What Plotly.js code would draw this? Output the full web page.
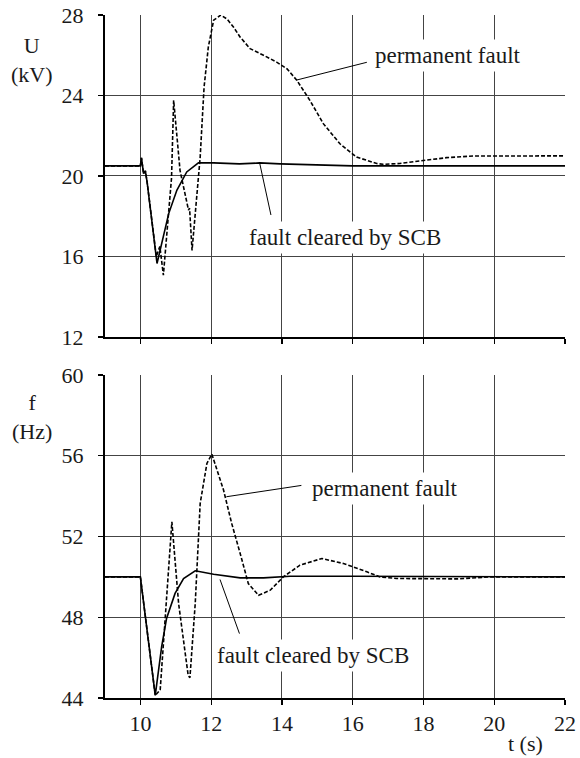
<!DOCTYPE html>
<html>
<head>
<meta charset="utf-8">
<script src="https://cdn.plot.ly/plotly-3.0.1.min.js"></script>
<style>html,body{margin:0;padding:0;background:#fff;}#chart{width:580px;height:758px;}</style>
</head>
<body>
<div id="chart"></div>
<script>
// ---- Data ----
// Voltage U (kV), fault cleared by SCB (solid)
const tUCleared = [9, 10, 10.03, 10.09, 10.14, 10.19, 10.47, 10.61, 10.80, 11.03, 11.31, 11.64, 12.07, 12.8, 13.37, 13.95, 15.0, 16.0, 17.0, 22];
const uCleared  = [20.5, 20.5, 20.9, 20.12, 20.25, 19.7, 15.65, 16.64, 18.13, 19.29, 20.2, 20.65, 20.65, 20.6, 20.65, 20.6, 20.55, 20.5, 20.5, 20.5];
// Voltage U (kV), permanent fault (dashed)
const tUPerm = [9, 10, 10.03, 10.09, 10.14, 10.19, 10.45, 10.55, 10.65, 10.88, 10.94, 11.12, 11.36, 11.39, 11.46, 11.69, 11.80, 11.92, 12.07, 12.27, 12.45, 12.63, 12.82, 13.1, 13.48, 13.85, 14.14, 14.42, 14.79, 15.17, 15.64, 16.11, 16.68, 16.86, 17.33, 18.0, 18.65, 19.4, 20.3, 22];
const uPerm  = [20.5, 20.5, 20.9, 20.12, 20.25, 19.7, 16.0, 16.5, 15.07, 19.9, 23.76, 20.28, 18.3, 18.4, 16.3, 20.94, 24.42, 26.41, 27.74, 28.0, 27.8, 27.4, 26.9, 26.33, 26.0, 25.66, 25.33, 24.76, 23.76, 22.6, 21.6, 20.94, 20.62, 20.58, 20.62, 20.75, 20.91, 20.99, 21.0, 21.0];
// Frequency f (Hz), fault cleared by SCB (solid)
const tFCleared = [9, 10, 10.42, 10.60, 10.74, 10.98, 11.22, 11.55, 12.07, 12.82, 13.48, 14.23, 16, 22];
const fCleared  = [50, 50, 44.13, 46.53, 47.94, 49.18, 49.92, 50.3, 50.13, 49.95, 49.95, 50.03, 50.03, 50.0];
// Frequency f (Hz), permanent fault (dashed)
const tFPerm = [9, 10, 10.42, 10.56, 10.89, 10.94, 11.08, 11.35, 11.40, 11.55, 11.69, 11.88, 12.02, 12.35, 12.58, 12.82, 13.05, 13.34, 13.67, 14.04, 14.51, 15.13, 15.74, 16.4, 16.77, 17.24, 18.0, 18.97, 19.87, 22];
const fPerm  = [50, 50, 44.13, 44.4, 52.73, 51.66, 48.68, 45.13, 45.0, 48.68, 53.64, 55.62, 56.08, 54.3, 52.65, 51.16, 49.67, 49.09, 49.34, 50.0, 50.58, 50.91, 50.66, 50.25, 50.0, 49.92, 49.9, 49.9, 50.0, 50.0];

// Axis ranges and ticks
const tRange = [9, 22];
const uRange = [12, 28];
const fRange = [44, 60];
const tTicks = [10, 12, 14, 16, 18, 20, 22];
const uTicks = [12, 16, 20, 24, 28];
const fTicks = [44, 48, 52, 56, 60];

// Labels: [text, t, value] and leader lines [t0, v0, t1, v1]
const labelPermU = ["permanent fault", 18.70, 26.0];
const leaderPermU = [14.42, 24.77, 16.40, 25.65];
const labelClrU = ["fault cleared by SCB", 15.78, 16.95];
const leaderClrU = [13.37, 20.65, 13.69, 18.06];
const labelPermF = ["permanent fault", 16.91, 54.38];
const leaderPermF = [12.43, 53.97, 14.55, 54.53];
const labelClrF = ["fault cleared by SCB", 14.87, 46.12];
const leaderClrF = [12.25, 49.87, 12.80, 47.19];

const FONT = "'Liberation Serif', 'DejaVu Serif', serif";
const TXT = "#1a1a1a";

const solid = {color: "#000", width: 1.6};
const dashed = {color: "#000", width: 1.6, dash: "4px,2px"};

const traces = [
  {x: tUCleared, y: uCleared, xaxis: "x", yaxis: "y", mode: "lines", line: solid, hoverinfo: "skip"},
  {x: tUPerm, y: uPerm, xaxis: "x", yaxis: "y", mode: "lines", line: dashed, hoverinfo: "skip"},
  {x: tFCleared, y: fCleared, xaxis: "x2", yaxis: "y2", mode: "lines", line: solid, hoverinfo: "skip"},
  {x: tFPerm, y: fPerm, xaxis: "x2", yaxis: "y2", mode: "lines", line: dashed, hoverinfo: "skip"}
];

function xax(anchor, showLabels) {
  return {
    anchor: anchor, range: tRange, tickvals: tTicks, ticktext: tTicks.map(String),
    showticklabels: showLabels, ticks: "outside", ticklen: 5, tickwidth: 1.2, tickcolor: "#000",
    showline: true, linecolor: "#000", linewidth: 2,
    showgrid: true, gridcolor: "#444", gridwidth: 1, zeroline: false,
    tickfont: {family: FONT, size: 22, color: TXT}, fixedrange: true
  };
}
function yax(domain, anchor, range, ticks) {
  return {
    domain: domain, anchor: anchor, range: range, tickvals: ticks, ticktext: ticks.map(String),
    ticks: "outside", ticklen: 5, tickwidth: 1.2, tickcolor: "#000",
    showline: true, linecolor: "#000", linewidth: 2,
    showgrid: true, gridcolor: "#444", gridwidth: 1, zeroline: false,
    ticklabelstandoff: 10,
    tickfont: {family: FONT, size: 22, color: TXT}, fixedrange: true
  };
}

function textAnn(lbl, xr, yr) {
  return {text: lbl[0], x: lbl[1], y: lbl[2], xref: xr, yref: yr, showarrow: false,
          bgcolor: "#fff", borderpad: 3, font: {family: FONT, size: 23, color: TXT},
          xanchor: "center", yanchor: "middle"};
}
function leader(l, xr, yr) {
  return {type: "line", xref: xr, yref: yr, x0: l[0], y0: l[1], x1: l[2], y1: l[3],
          line: {color: "#000", width: 1}};
}
function paperText(t, x, y, ya) {
  return {text: t, x: x, y: y, xref: "paper", yref: "paper", showarrow: false,
          xanchor: "center", yanchor: ya || "middle", font: {family: FONT, size: 22, color: TXT}};
}

const layout = {
  width: 580, height: 758,
  margin: {l: 105, r: 15, t: 15, b: 60},
  paper_bgcolor: "#fff", plot_bgcolor: "#fff",
  font: {family: FONT, size: 22, color: TXT},
  showlegend: false,
  xaxis: xax("y", false),
  yaxis: yax([0.5286, 1], "x", uRange, uTicks),
  xaxis2: xax("y2", true),
  yaxis2: yax([0, 0.4729], "x2", fRange, fTicks),
  shapes: [
    leader(leaderPermU, "x", "y"), leader(leaderClrU, "x", "y"),
    leader(leaderPermF, "x2", "y2"), leader(leaderClrF, "x2", "y2")
  ],
  annotations: [
    textAnn(labelPermU, "x", "y"), textAnn(labelClrU, "x", "y"),
    textAnn(labelPermF, "x2", "y2"), textAnn(labelClrF, "x2", "y2"),
    paperText("U<br>(kV)", -0.159, 0.934), 
    paperText("f<br>(Hz)", -0.159, 0.412),
    paperText("t (s)", 0.915, -0.0875, "bottom")
  ]
};

Plotly.newPlot("chart", traces, layout, {displayModeBar: false, staticPlot: true});
</script>
</body>
</html>
